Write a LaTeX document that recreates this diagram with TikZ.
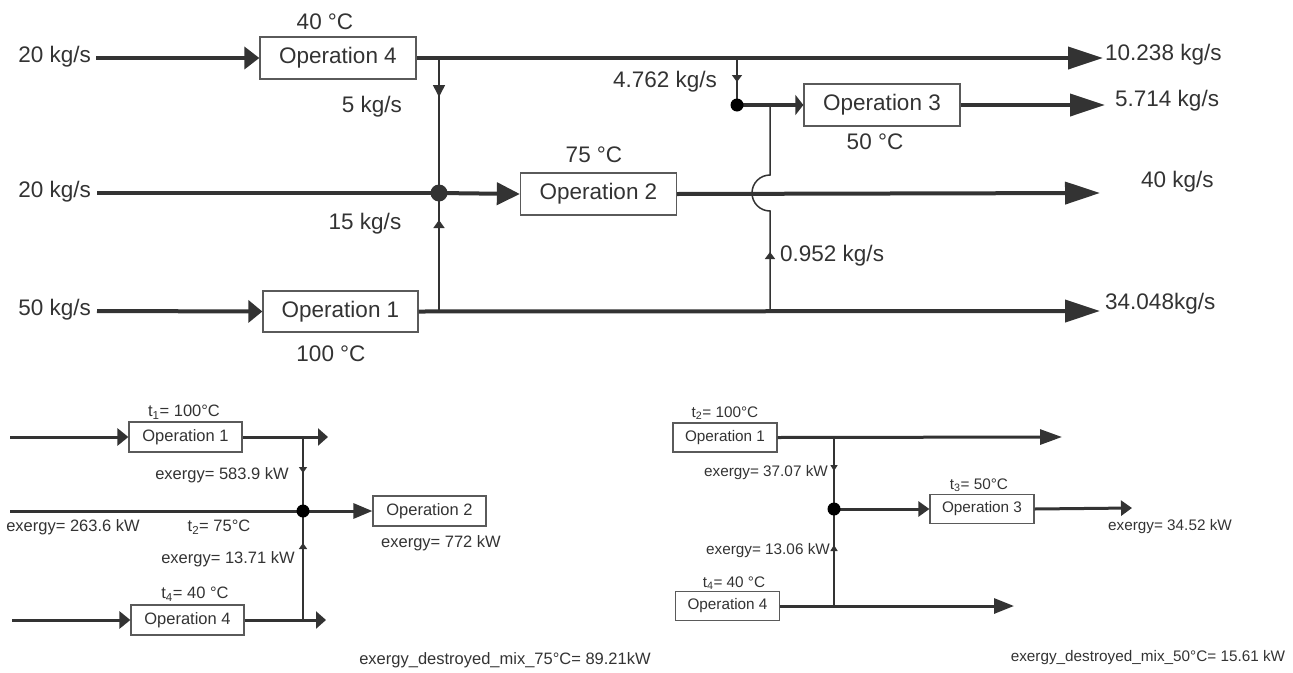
\documentclass[tikz,border=0pt]{standalone}
\usepackage{fontspec}
\setmainfont{Liberation Sans}
\usetikzlibrary{arrows.meta,decorations.markings}
\definecolor{ink}{HTML}{333333}
\definecolor{boxline}{HTML}{5A5A5A}
\begin{document}
\begin{tikzpicture}[x=1pt,y=-1pt,
  opbig/.style={draw=boxline, line width=1.3pt, fill=white, minimum width=156pt, minimum height=42pt, inner sep=0pt, text=ink, font=\fontsize{22.5}{27}\selectfont},
  opmid/.style={draw=boxline, line width=1.2pt, fill=white, minimum width=113pt, minimum height=30pt, inner sep=0pt, text=ink, font=\fontsize{16.5}{20}\selectfont},
  opsml/.style={draw=boxline, line width=1.2pt, fill=white, minimum width=104pt, minimum height=29pt, inner sep=0pt, text=ink, font=\fontsize{15.3}{18}\selectfont},
  tbig/.style={text=ink, inner sep=0pt, font=\fontsize{22.5}{27}\selectfont},
  tmid/.style={text=ink, inner sep=0pt, font=\fontsize{16.5}{20}\selectfont},
  tsml/.style={text=ink, inner sep=0pt, font=\fontsize{15.3}{18}\selectfont},
  mainline/.style={draw=ink, line width=4pt},
  midline/.style={draw=ink, line width=3pt},
  thinline/.style={draw=ink, line width=1.5pt},
  tipA/.style n args={2}{-{Triangle[length=#1,width=#2]}},
  midarr/.style n args={3}{decoration={markings, mark=at position #1 with {\arrow{Triangle[length=#2,width=#3]}}}, postaction={decorate}},
  dotnode/.style={circle, fill=#1, inner sep=0pt},
]
\useasboundingbox (0,0) rectangle (1293,672);

% ================= TOP DIAGRAM =================
\node[opbig] (op4) at (338,58) {Operation 4};
\node[opbig, minimum width=155pt, minimum height=41pt] (op1) at (340.5,311.5) {Operation 1};
\node[opbig] (op2) at (598.5,194) {Operation 2};
\node[opbig] (op3) at (882,105) {Operation 3};

\coordinate (in1) at (96,58);
\coordinate (in2) at (97,193);
\coordinate (in3) at (97,311);
\coordinate (out1) at (1103,58);
\coordinate (out2) at (1100,193);
\coordinate (out3) at (1100,311);
\coordinate (out4) at (1105,105);
\coordinate (j1) at (439,58);
\coordinate (j2) at (439,193);
\coordinate (j3) at (439,311);
\coordinate (j4) at (737,58);
\coordinate (j5) at (737,105);
\coordinate (j6) at (770,105);
\coordinate (j7) at (770,311);

\draw[mainline, tipA={15pt}{22pt}] (in1) -- (op4.west);
\draw[mainline, tipA={35pt}{22pt}] (op4.east) -- (out1);
\draw[mainline] (in2) -- (j2);
\draw[mainline, tipA={23pt}{22pt}] (j2) -- (op2.west);
\draw[mainline, tipA={35pt}{22pt}] (op2.east) -- (out2);
\draw[mainline, tipA={14pt}{22pt}] (in3) -- (op1.west);
\draw[mainline, tipA={35pt}{22pt}] (op1.east) -- (out3);
\draw[mainline, tipA={8pt}{20pt}] (j5) -- (op3.west);
\draw[mainline, tipA={35pt}{22pt}] (op3.east) -- (out4);

\draw[thinline, midarr={39pt}{12pt}{12pt}] (j1) -- (j2);
\draw[thinline, midarr={91pt}{8pt}{11pt}] (j3) -- (j2);
\draw[thinline, midarr={24pt}{7pt}{10pt}] (j4) -- (j5);
\draw[thinline, midarr={59pt}{7pt}{10pt}] (j7) -- (770,211) arc[start angle=90, end angle=270, radius=18] -- (j6);

\node[dotnode=ink, minimum size=17pt] (d1) at (j2) {};
\node[dotnode=black, minimum size=13pt] (d2) at (j5) {};

\node[tbig, anchor=east] (t1) at (91,57) {20 kg/s};
\node[tbig, anchor=east] (t2) at (91,192) {20 kg/s};
\node[tbig, anchor=east] (t3) at (91,310) {50 kg/s};
\node[tbig] (t4) at (325,22) {40 °C};
\node[tbig] (t5) at (331,354) {100 °C};
\node[tbig] (t6) at (372,107) {5 kg/s};
\node[tbig] (t7) at (365,224) {15 kg/s};
\node[tbig] (t8) at (594,155) {75 °C};
\node[tbig] (t9) at (665,82) {4.762 kg/s};
\node[tbig] (t10) at (875,142) {50 °C};
\node[tbig, anchor=west] (t11) at (1105,55) {10.238 kg/s};
\node[tbig, anchor=west] (t12) at (1115,101) {5.714 kg/s};
\node[tbig, anchor=west] (t13) at (1141,182) {40 kg/s};
\node[tbig, anchor=west] (t14) at (1105,304) {34.048kg/s};
\node[tbig, anchor=west] (t15) at (780,256) {0.952 kg/s};

% ================= BOTTOM LEFT =================
\node[opmid] (bop1) at (185.5,437) {Operation 1};
\node[opmid] (bop2) at (429.5,511) {Operation 2};
\node[opmid] (bop4) at (187.5,620) {Operation 4};

\coordinate (bin1) at (10,437);
\coordinate (bin2) at (10,511);
\coordinate (bin3) at (12,620);
\coordinate (bout1) at (328,437);
\coordinate (bout3) at (326,620);
\coordinate (bj1) at (303,437);
\coordinate (bj2) at (303,511);
\coordinate (bj3) at (303,620);

\draw[midline, tipA={11pt}{17pt}] (bin1) -- (bop1.west);
\draw[midline, tipA={10pt}{17pt}] (bop1.east) -- (bout1);
\draw[midline] (bin2) -- (bj2);
\draw[midline, tipA={19pt}{15pt}] (bj2) -- (bop2.west);
\draw[midline, tipA={11pt}{17pt}] (bin3) -- (bop4.west);
\draw[midline, tipA={10pt}{17pt}] (bop4.east) -- (bout3);
\draw[thinline, midarr={36pt}{6pt}{8pt}] (bj1) -- (bj2);
\draw[thinline, midarr={77pt}{6pt}{8pt}] (bj3) -- (bj2);
\node[dotnode=black, minimum size=13pt] (bd) at (bj2) {};

\node[tmid] (b1) at (184,412) {t\textsubscript{1}= 100°C};
\node[tmid] (b2) at (222,475) {exergy= 583.9 kW};
\node[tmid] (b3) at (73,527) {exergy= 263.6 kW};
\node[tmid] (b4) at (219,527) {t\textsubscript{2}= 75°C};
\node[tmid] (b5) at (441,543) {exergy= 772 kW};
\node[tmid] (b6) at (228,559) {exergy= 13.71 kW};
\node[tmid] (b7) at (195,594) {t\textsubscript{4}= 40 °C};
\node[tmid] (b8) at (505,660) {exergy\_destroyed\_mix\_75°C= 89.21kW};

% ================= BOTTOM RIGHT =================
\node[opsml] (rop1) at (725,437.5) {Operation 1};
\node[opsml] (rop3) at (982,509) {Operation 3};
\node[opsml] (rop4) at (727.5,606) {Operation 4};

\coordinate (rout1) at (1062,437);
\coordinate (rout2) at (1132,508);
\coordinate (rout3) at (1014,606);
\coordinate (rj1) at (834,437);
\coordinate (rj2) at (834,509);
\coordinate (rj3) at (834,606);

\draw[midline, tipA={22pt}{15pt}] (rop1.east) -- (rout1);
\draw[midline, tipA={11pt}{15pt}] (rj2) -- (rop3.west);
\draw[midline, tipA={11pt}{15pt}] (rop3.east) -- (rout2);
\draw[midline, tipA={20pt}{15pt}] (rop4.east) -- (rout3);
\draw[thinline, midarr={34pt}{6pt}{7pt}] (rj1) -- (rj2);
\draw[thinline, midarr={61pt}{6pt}{7pt}] (rj3) -- (rj2);
\node[dotnode=black, minimum size=13pt] (rd) at (rj2) {};

\node[tsml] (r1) at (725,413) {t\textsubscript{2}= 100°C};
\node[tsml] (r2) at (766,473) {exergy= 37.07 kW};
\node[tsml] (r3) at (979,485) {t\textsubscript{3}= 50°C};
\node[tsml] (r4) at (1170,527) {exergy= 34.52 kW};
\node[tsml] (r5) at (768,551) {exergy= 13.06 kW};
\node[tsml] (r6) at (734,583) {t\textsubscript{4}= 40 °C};
\node[tsml] (r7) at (1148,658) {exergy\_destroyed\_mix\_50°C= 15.61 kW};
\end{tikzpicture}
\end{document}
